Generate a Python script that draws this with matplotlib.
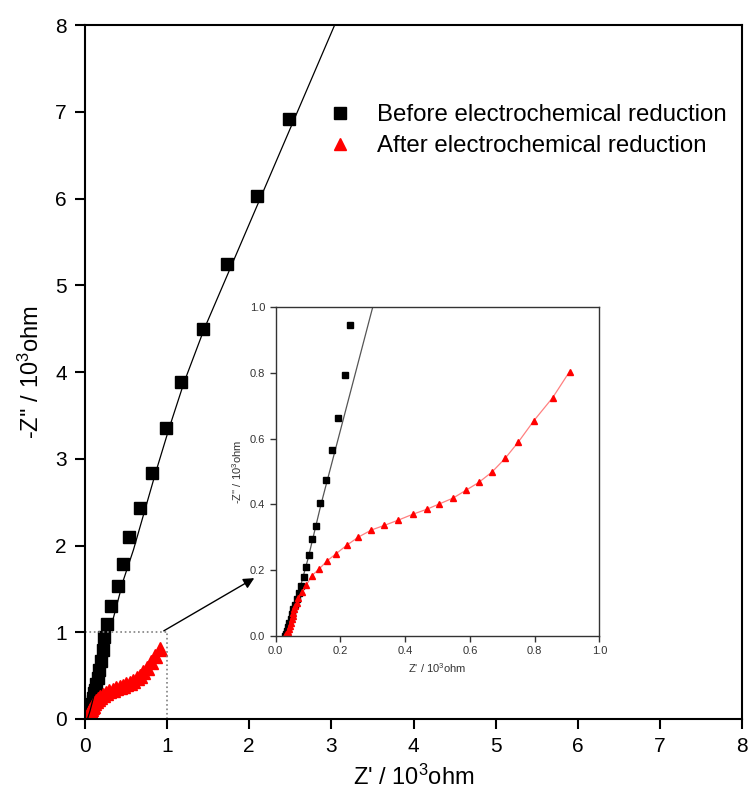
import matplotlib
matplotlib.use("Agg")
import matplotlib.pyplot as plt

plt.rcParams['font.family'] = ['Liberation Sans', 'DejaVu Sans']
plt.rcParams['mathtext.fontset'] = 'custom'
plt.rcParams['mathtext.rm'] = 'Liberation Sans'
plt.rcParams['mathtext.it'] = 'Liberation Sans'

# Before electrochemical reduction (10^3 ohm)
before_x = [0.030, 0.032, 0.035, 0.038, 0.042, 0.046, 0.050, 0.055, 0.060, 0.066,
            0.072, 0.078, 0.0865, 0.095, 0.103, 0.113, 0.124, 0.138, 0.155, 0.173,
            0.194, 0.215, 0.230, 0.272, 0.317, 0.406, 0.46, 0.536, 0.67, 0.816,
            0.987, 1.17, 1.434, 1.725, 2.10, 2.485]
before_y = [0.0, 0.006, 0.015, 0.026, 0.038, 0.050, 0.065, 0.080, 0.095, 0.111,
            0.129, 0.151, 0.178, 0.208, 0.246, 0.294, 0.333, 0.405, 0.475, 0.564,
            0.664, 0.793, 0.946, 1.09, 1.30, 1.53, 1.79, 2.10, 2.43, 2.84,
            3.36, 3.88, 4.49, 5.25, 6.03, 6.92]

# fitted curve for the "before" data
fit_x = [0.03, 0.06, 0.10, 0.14, 0.297, 0.467, 0.59, 0.86, 1.027, 1.206, 1.449, 3.04]
fit_y = [0.0, 0.09, 0.235, 0.40, 0.99, 1.60, 1.95, 2.84, 3.36, 3.88, 4.49, 8.0]

# After electrochemical reduction
after_x = [0.029, 0.032, 0.035, 0.037, 0.040, 0.043, 0.046, 0.049, 0.052, 0.055,
           0.058, 0.061, 0.065, 0.070, 0.082, 0.094, 0.112, 0.134, 0.159, 0.187,
           0.219, 0.255, 0.296, 0.336, 0.379, 0.424, 0.467, 0.505, 0.548, 0.588,
           0.628, 0.669, 0.709, 0.750, 0.798, 0.856, 0.908]
after_y = [0.0, 0.005, 0.0, 0.01, 0.02, 0.03, 0.04, 0.05, 0.06, 0.07,
           0.08, 0.09, 0.10, 0.114, 0.134, 0.153, 0.183, 0.203, 0.228, 0.250,
           0.275, 0.300, 0.322, 0.336, 0.352, 0.370, 0.385, 0.401, 0.419, 0.443,
           0.467, 0.499, 0.540, 0.590, 0.655, 0.725, 0.804]

main_ticks = [0, 1, 2, 3, 4, 5, 6, 7, 8]
inset_ticks = [0.0, 0.2, 0.4, 0.6, 0.8, 1.0]

fig = plt.figure(figsize=(7.53, 7.96), dpi=100)
ax = fig.add_axes([85/753, 77/796, 657/753, 694/796])

ax.plot(fit_x, fit_y, color='black', lw=0.9, zorder=3)
ax.plot(before_x, before_y, 's', color='black', markersize=8,
        label='Before electrochemical reduction', zorder=2)
ax.plot(after_x, after_y, '^', color='red', markersize=9.5,
        label='After electrochemical reduction', zorder=2)

# zoom box
ax.plot([0, 1], [1, 1], ':', color='gray', lw=1.2)
ax.plot([1, 1], [0, 1], ':', color='gray', lw=1.2)
ax.annotate('', xy=(2.09, 1.64), xytext=(0.93, 1.0),
            arrowprops=dict(arrowstyle='-|>', color='black', lw=1, mutation_scale=16))

ax.set_xlim(0, 8)
ax.set_ylim(0, 8)
ax.set_xticks(main_ticks)
ax.set_yticks(main_ticks)
ax.tick_params(labelsize=15, length=7, width=1.5, direction='out', pad=6)
for s in ax.spines.values():
    s.set_linewidth(1.5)
ax.set_xlabel("Z' / 10$^3$ohm", fontsize=17, labelpad=6)
ax.set_ylabel("-Z'' / 10$^3$ohm", fontsize=17, labelpad=8)

leg = ax.legend(loc='center left', bbox_to_anchor=(0.370, 0.8475), frameon=False,
                fontsize=17.3, handlelength=1.0, handletextpad=1.05, borderpad=0,
                labelspacing=0.38, borderaxespad=0)
leg.legend_handles[0].set_markersize(8)
leg.legend_handles[1].set_markersize(9)

# inset
ins = fig.add_axes([275.7/753, 160.3/796, 323.6/753, 328.4/796])
ins.plot(fit_x, fit_y, color='#555555', lw=0.9)
ins.plot(before_x, before_y, 's', color='black', markersize=4)
ins.plot(after_x, after_y, '-', color='#ff8080', lw=0.9)
ins.plot(after_x, after_y, '^', color='red', markersize=5)
ins.set_xlim(0, 1)
ins.set_ylim(0, 1)
ins.set_xticks(inset_ticks)
ins.set_yticks(inset_ticks)
ins.tick_params(labelsize=8, length=4, width=1, direction='out', colors='#333333')
for s in ins.spines.values():
    s.set_linewidth(1)
    s.set_color('#333333')
ins.set_xlabel("Z' / 10$^3$ohm", fontsize=8, color='#333333')
ins.set_ylabel("-Z'' / 10$^3$ohm", fontsize=8, color='#333333')

fig.savefig("out.png", dpi=100)
